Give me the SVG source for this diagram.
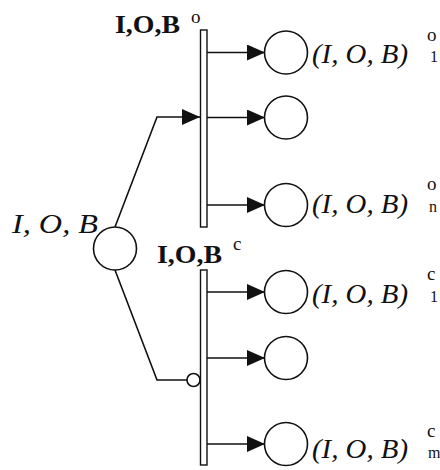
<svg xmlns="http://www.w3.org/2000/svg" width="440" height="470" viewBox="0 0 440 470">
<style>
.n{fill:#fff;stroke:#111;stroke-width:1.6}
.bar{fill:#fff;stroke:#111;stroke-width:1.4}
.c{fill:none;stroke:#111;stroke-width:1.6}
.it{font-family:"Liberation Serif",serif;font-style:italic;font-size:27px;fill:#111}
.bd{font-family:"Liberation Serif",serif;font-weight:bold;font-size:26px;fill:#111}
.sm{font-family:"Liberation Serif",serif;font-size:16px;fill:#111}
.su{font-family:"Liberation Serif",serif;font-size:19px;fill:#111}
.sp{font-family:"Liberation Serif",serif;font-size:19px;fill:#111}
</style>
<defs>
<marker id="ah" markerWidth="18" markerHeight="16" refX="18" refY="8" orient="auto" markerUnits="userSpaceOnUse">
<path d="M0,0 L18,8 L0,16 Z" fill="#111"/>
</marker>
</defs>
<g id="connectors">
<line class="c" x1="207" y1="52.5" x2="265" y2="52.5" marker-end="url(#ah)"/>
<line class="c" x1="207" y1="117.5" x2="265" y2="117.5" marker-end="url(#ah)"/>
<line class="c" x1="207" y1="205" x2="265" y2="205" marker-end="url(#ah)"/>
<line class="c" x1="207" y1="292" x2="265" y2="292" marker-end="url(#ah)"/>
<line class="c" x1="207" y1="358" x2="265" y2="358" marker-end="url(#ah)"/>
<line class="c" x1="207" y1="444" x2="265" y2="444" marker-end="url(#ah)"/>
<polyline class="c" points="115,227 157,117 200,117" marker-end="url(#ah)"/>
<polyline class="c" points="115,270 157,380 187,380"/>
<circle class="n" cx="193.5" cy="380" r="6.5"/>
</g>
<g id="source">
<circle class="n" cx="115" cy="248.5" r="21.5"/>
<text class="it" x="12" y="233" textLength="86" lengthAdjust="spacingAndGlyphs">I, O, B</text>
</g>
<g id="bar-o">
<rect class="bar" x="200.5" y="30" width="6.5" height="197"/>
<text class="bd" x="115" y="33" textLength="65" lengthAdjust="spacingAndGlyphs">I,O,B</text>
<text class="sp" x="191" y="23">o</text>
</g>
<g id="bar-c">
<rect class="bar" x="200.5" y="270" width="6.5" height="195"/>
<text class="bd" x="157" y="263" textLength="65" lengthAdjust="spacingAndGlyphs">I,O,B</text>
<text class="sp" x="233" y="250">c</text>
</g>
<g id="o1">
<circle class="n" cx="286" cy="52.5" r="21.5"/>
<text class="it" x="312" y="63" textLength="96" lengthAdjust="spacingAndGlyphs">(I, O, B)</text>
<text class="su" x="427" y="41">o</text>
<text class="sm" x="430" y="62">1</text>
</g>
<g id="o2">
<circle class="n" cx="286" cy="117.5" r="21.5"/>
</g>
<g id="on">
<circle class="n" cx="286" cy="205" r="21.5"/>
<text class="it" x="312" y="213" textLength="96" lengthAdjust="spacingAndGlyphs">(I, O, B)</text>
<text class="su" x="427" y="190">o</text>
<text class="sm" x="429" y="212">n</text>
</g>
<g id="c1">
<circle class="n" cx="286" cy="292" r="21.5"/>
<text class="it" x="312" y="303" textLength="96" lengthAdjust="spacingAndGlyphs">(I, O, B)</text>
<text class="su" x="427" y="280">c</text>
<text class="sm" x="430" y="302">1</text>
</g>
<g id="c2">
<circle class="n" cx="286" cy="358" r="21.5"/>
</g>
<g id="cm">
<circle class="n" cx="286" cy="444" r="21.5"/>
<text class="it" x="312" y="458" textLength="96" lengthAdjust="spacingAndGlyphs">(I, O, B)</text>
<text class="su" x="427" y="437">c</text>
<text class="sm" x="428" y="458">m</text>
</g>
</svg>
